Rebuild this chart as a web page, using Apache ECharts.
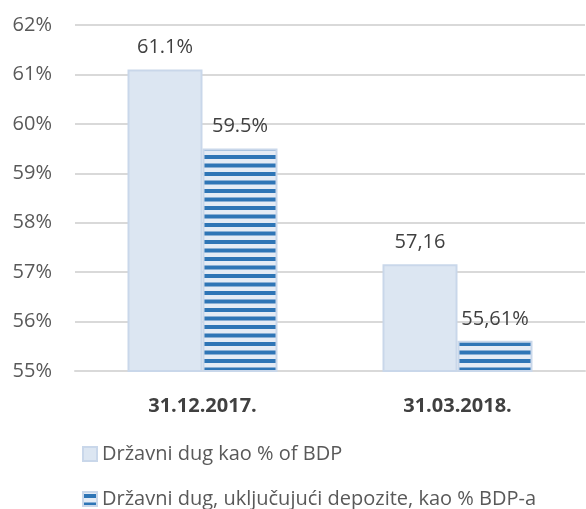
<!DOCTYPE html>
<html>
<head>
<meta charset="utf-8">
<style>
    html, body { margin: 0; padding: 0; background: #fff; }
    #chart { width: 586px; height: 509px; }
</style>
<script src="https://cdn.jsdelivr.net/npm/echarts@6/dist/echarts.min.js"></script>
</head>
<body>
<div id="chart"></div>
<script>
    // podaci
    var categories = ['31.12.2017.', '31.03.2018.'];
    var seriesNames = ['Državni dug kao % of BDP', 'Državni dug, uključujući depozite, kao % BDP-a'];
    var dugBdp = [61.1, 57.16];
    var dugDepoziti = [59.5, 55.61];
    var dugBdpLabels = ['61.1%', '57,16'];
    var dugDepozitiLabels = ['59.5%', '55,61%'];
    var yTicks = [55, 56, 57, 58, 59, 60, 61, 62];

    var FONT = 'Open Sans';

    // prugasti uzorak za drugu seriju
    function stripePattern() {
        var c = document.createElement('canvas');
        c.width = 8;
        c.height = 17;
        var ctx = c.getContext('2d');
        ctx.fillStyle = '#e4ebf5';
        ctx.fillRect(0, 0, 8, 17);
        ctx.fillStyle = '#2e75b6';
        ctx.fillRect(0, 2, 8, 4);
        ctx.fillRect(0, 10.5, 8, 4);
        return c;
    }

    function legendItem(name, top) {
        return {
            orient: 'vertical',
            left: 82,
            top: top,
            padding: 0,
            itemWidth: 14,
            itemHeight: 14,
            icon: 'rect',
            textStyle: {color: '#595959', fontSize: 20, fontFamily: FONT},
            data: [name]
        };
    }

    var labelStyle = {
        show: true,
        position: 'top',
        distance: 12,
        color: '#404040',
        fontSize: 20,
        fontFamily: FONT
    };

    var myChart = echarts.init(document.getElementById('chart'));
    var option = {
        animation: false,
        textStyle: {fontFamily: FONT},
        grid: {
            left: 75,
            right: 1,
            top: 25,
            bottom: 138,
            containLabel: false
        },
        legend: [
            legendItem(seriesNames[0], 444),
            legendItem(seriesNames[1], 489)
        ],
        xAxis: {
            type: 'category',
            data: categories,
            axisTick: {show: false},
            axisLine: {lineStyle: {color: '#d9d9d9', width: 2}},
            axisLabel: {
                color: '#404040',
                fontSize: 20,
                fontWeight: 'bold',
                margin: 25,
                fontFamily: FONT
            }
        },
        yAxis: {
            type: 'value',
            min: yTicks[0],
            max: yTicks[yTicks.length - 1],
            interval: 1,
            axisLine: {show: false},
            axisTick: {show: false},
            axisLabel: {
                color: '#595959',
                fontSize: 20,
                margin: 23,
                formatter: '{value}%',
                fontFamily: FONT
            },
            splitLine: {lineStyle: {color: '#d9d9d9', width: 2}}
        },
        series: [
            {
                name: seriesNames[0],
                type: 'bar',
                barWidth: 75,
                barGap: '0%',
                data: dugBdp,
                itemStyle: {color: '#dce6f2', borderColor: '#c9d7ea', borderWidth: 2},
                label: Object.assign({}, labelStyle, {
                    formatter: function (p) { return dugBdpLabels[p.dataIndex]; }
                })
            },
            {
                name: seriesNames[1],
                type: 'bar',
                barWidth: 75,
                barGap: '0%',
                data: dugDepoziti,
                itemStyle: {
                    color: {image: stripePattern(), repeat: 'repeat'},
                    borderColor: '#c9d7ea',
                    borderWidth: 2
                },
                label: Object.assign({}, labelStyle, {
                    formatter: function (p) { return dugDepozitiLabels[p.dataIndex]; }
                })
            }
        ]
    };
    myChart.setOption(option);
</script>
</body>
</html>
